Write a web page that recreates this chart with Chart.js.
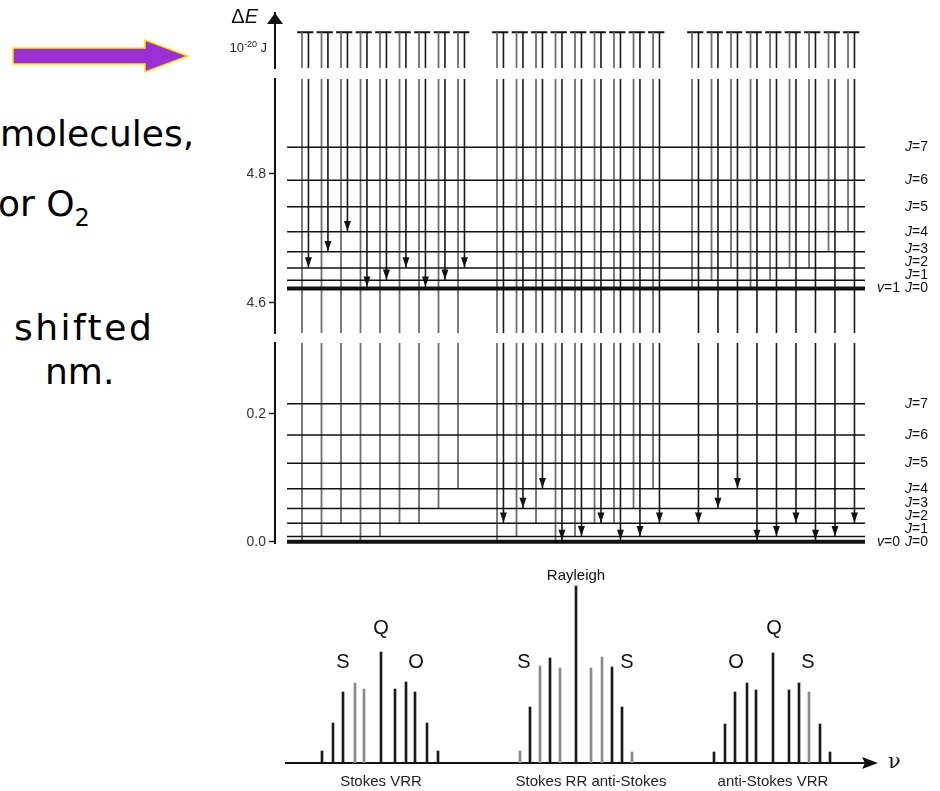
<!DOCTYPE html>
<html>
<head>
<meta charset="utf-8">
<script src="https://cdn.jsdelivr.net/npm/chart.js@4.4.0/dist/chart.umd.min.js"></script>
<style>
  body { margin: 0; width: 940px; height: 791px; position: relative; overflow: hidden; background: #fff; }
  .txt { position: absolute; font-family: "DejaVu Sans"; font-size: 36px; line-height: 36px; color: #000; white-space: nowrap; }
  .txt sub { font-size: 24px; vertical-align: -10px; line-height: 0; }
  #arrow { position: absolute; left: 10px; top: 36px; }
  #levels { position: absolute; left: 200px; top: 0; }
  #spectrum { position: absolute; left: 200px; top: 560px; }
</style>
</head>
<body>

<svg id="arrow" width="185" height="42">
  <polygon points="3,12 135,12 135,4 178,20 135,36 135,28 3,28" fill="#9b30d9" stroke="#ffe600" stroke-width="1.5"/>
</svg>
<div class="txt" style="left:0px; top:116px;">molecules,</div>
<div class="txt" style="left:-2px; top:186px;">or O<sub>2</sub></div>
<div class="txt" style="left:14px; top:310px; letter-spacing:2.5px;">shifted</div>
<div class="txt" style="left:45px; top:354px;">nm.</div>

<canvas id="levels" width="740" height="560"></canvas>
<canvas id="spectrum" width="740" height="231"></canvas>

<script>
// ===============================
// Energy levels (10^-20 J)
// ===============================

const levelJ = [0, 1, 2, 3, 4, 5, 6, 7];
const groundLevels = [0, 0.008, 0.029, 0.052, 0.083, 0.123, 0.167, 0.216];        // v=0
const excitedLevels = [4.622, 4.635, 4.654, 4.679, 4.710, 4.749, 4.790, 4.841];   // v=1

// broken energy axis: three pieces
const lowerRange = [-0.002, 0.311];
const upperRange = [4.553, 4.947];
const virtualRange = [0, 1];
const virtualLevel = 0.65;
const unitLevel = 0.36;
const lowerTicks = [0.0, 0.2];
const upperTicks = [4.6, 4.8];

// Raman transitions: start J and end J (same pattern in each group)
const fromJ = [0, 1, 2, 0, 1, 2, 2, 3, 4];
const toJ = [2, 3, 4, 0, 1, 2, 0, 1, 2];

// horizontal slot of each transition
const stokesSlots = [1, 2, 3, 4, 5, 6, 7, 8, 9];
const rayleighSlots = [11, 12, 13, 14, 15, 16, 17, 18, 19];
const antiStokesSlots = [21, 22, 23, 24, 25, 26, 27, 28, 29];

// ===============================
// Spectrum (relative shift, intensity)
// ===============================

const stokesVrrShift = [-254, -243, -233, -221, -212, -195, -181, -170, -161, -149, -138];
const stokesVrrIntensity = [12, 40, 71, 80, 74, 111, 74, 81, 71, 40, 12];
const rrShift = [-56, -46, -36, -26, -16, 0, 15, 26, 36, 46, 56];
const rrIntensity = [12, 56, 97, 105, 95, 177, 95, 106, 96, 56, 11];
const antiVrrShift = [138, 149, 159, 171, 180, 197, 213, 223, 233, 244, 254];
const antiVrrIntensity = [11, 39, 71, 80, 73, 110, 73, 80, 71, 39, 11];

const groupNames = ["Stokes VRR", "Stokes RR anti-Stokes", "anti-Stokes VRR"];
const groupCentres = [-195, 15, 197];

const branchText = ["S", "Q", "O", "S", "S", "O", "Q", "S"];
const branchShift = [-233, -195, -160, -52, 51, 160, 198, 232];
const branchHeight = [101, 135, 101, 101, 101, 101, 135, 101];

// ===============================
// Level diagram
// ===============================

Chart.defaults.font.family = "Liberation Sans";

const SLOT_GAP = 0.33;
const CAP = 0.25;
const levelStart = 0.23;
const levelEnd = 29.87;
const upColor = "#6e6e6e";
const downColor = "#1a1a1a";

function seg(axis, x1, y1, x2, y2, color, width){
    return {
        data: [{x: x1, y: y1}, {x: x2, y: y2}],
        yAxisID: axis,
        showLine: true,
        borderColor: color,
        backgroundColor: color,
        borderWidth: width,
        pointRadius: 0,
        clip: false
    };
}

const datasets = [];

groundLevels.forEach(function(e, j){
    datasets.push(seg("yLow", levelStart, e, levelEnd, e, "#111", j === 0 ? 4 : 1.5));
});
excitedLevels.forEach(function(e, j){
    datasets.push(seg("yHigh", levelStart, e, levelEnd, e, "#111", j === 0 ? 4 : 1.5));
});

const groups = [
    {slots: stokesSlots, from: groundLevels, to: excitedLevels, fromAxis: "yLow", toAxis: "yHigh"},
    {slots: rayleighSlots, from: groundLevels, to: groundLevels, fromAxis: "yLow", toAxis: "yLow"},
    {slots: antiStokesSlots, from: excitedLevels, to: groundLevels, fromAxis: "yHigh", toAxis: "yLow"}
];

groups.forEach(function(g){
    g.slots.forEach(function(s, i){
        const xUp = s;
        const xDown = s + SLOT_GAP;
        const eFrom = g.from[fromJ[i]];
        const eTo = g.to[toJ[i]];

        // up to the virtual level
        if(g.fromAxis === "yLow"){
            datasets.push(seg("yLow", xUp, eFrom, xUp, lowerRange[1], upColor, 1.8));
            datasets.push(seg("yHigh", xUp, upperRange[0], xUp, upperRange[1], upColor, 1.8));
        }else{
            datasets.push(seg("yHigh", xUp, eFrom, xUp, upperRange[1], upColor, 1.8));
        }
        datasets.push(seg("yTop", xUp, virtualRange[0], xUp, virtualLevel, upColor, 1.8));

        // virtual level
        datasets.push(seg("yTop", xUp - CAP, virtualLevel, xDown + CAP, virtualLevel, "#111", 2));

        // down to the final level
        datasets.push(seg("yTop", xDown, virtualLevel, xDown, virtualRange[0], downColor, 1.6));
        if(g.toAxis === "yHigh"){
            datasets.push(seg("yHigh", xDown, upperRange[1], xDown, eTo, downColor, 1.6));
        }else{
            datasets.push(seg("yHigh", xDown, upperRange[1], xDown, upperRange[0], downColor, 1.6));
            datasets.push(seg("yLow", xDown, lowerRange[1], xDown, eTo, downColor, 1.6));
        }
    });
});

function energyAxis(range, ticks, weight, order){
    return {
        type: "linear", axis: "y", position: "left",
        stack: "energy", stackWeight: weight, weight: order,
        min: range[0], max: range[1],
        afterBuildTicks: function(s){ s.ticks = ticks.map(v => ({value: v})); },
        afterFit: function(s){ s.width = 75; },
        grid: { display: true, drawOnChartArea: false, drawTicks: true, tickLength: 6, tickColor: "#222", tickWidth: 1.5 },
        border: { display: true, color: "#111", width: 2 },
        ticks: { padding: 3, color: "#333", font: { size: 14 }, autoSkip: false, callback: v => v.toFixed(1) }
    };
}

function gapAxis(weight, order){
    return {
        type: "linear", axis: "y", position: "left",
        stack: "energy", stackWeight: weight, weight: order,
        min: 0, max: 1, display: false,
        afterFit: function(s){ s.width = 75; }
    };
}

function drawLevelLabels(ctx, scale, levels, vLabel, right){
    const ys = [];
    levels.forEach(function(e, j){
        let y = scale.getPixelForValue(e);
        if(j > 0) y = Math.min(y, ys[j - 1] - 13);
        ys.push(y);
    });
    ctx.textBaseline = "middle";
    ctx.textAlign = "left";
    ys.forEach(function(y, j){
        const x = right + 40;
        ctx.font = "italic 14px 'Liberation Sans'";
        ctx.fillText("J", x, y);
        const w = ctx.measureText("J").width;
        ctx.font = "14px 'Liberation Sans'";
        ctx.fillText("=" + levelJ[j], x + w, y);
    });
    const x0 = right + 12;
    ctx.font = "italic 14px 'Liberation Sans'";
    ctx.fillText("v", x0, ys[0]);
    const wv = ctx.measureText("v").width;
    ctx.font = "14px 'Liberation Sans'";
    ctx.fillText("=" + vLabel, x0 + wv, ys[0]);
}

const levelDecor = {
    id: "levelDecor",
    afterDraw(chart){
        const ctx = chart.ctx;
        const area = chart.chartArea;
        const sx = chart.scales.x;
        ctx.save();
        ctx.fillStyle = "#111";

        // arrowheads on the scattered (downward) lines
        groups.forEach(function(g){
            g.slots.forEach(function(s, i){
                const scale = chart.scales[g.toAxis];
                const x = sx.getPixelForValue(s + SLOT_GAP);
                const y = scale.getPixelForValue(g.to[toJ[i]]) - (toJ[i] === 0 ? 2 : 0.7);
                ctx.beginPath();
                ctx.moveTo(x, y);
                ctx.lineTo(x - 3.5, y - 10);
                ctx.lineTo(x + 3.5, y - 10);
                ctx.closePath();
                ctx.fill();
            });
        });

        // axis arrow
        const ax = area.left;
        ctx.beginPath();
        ctx.moveTo(ax, area.top);
        ctx.lineTo(ax - 8, area.top + 11);
        ctx.lineTo(ax + 8, area.top + 11);
        ctx.closePath();
        ctx.fill();

        // ΔE
        ctx.textBaseline = "middle";
        ctx.textAlign = "right";
        ctx.font = "italic 20px 'Liberation Sans'";
        ctx.fillText("E", ax - 17, area.top + 4);
        const we = ctx.measureText("E").width;
        ctx.font = "20px 'Liberation Sans'";
        ctx.fillText("\u0394", ax - 17 - we, area.top + 4);

        // unit 10^-20 J
        const uy = chart.scales.yTop.getPixelForValue(unitLevel);
        const ux = ax - 8;
        ctx.fillStyle = "#222";
        ctx.font = "13px 'Liberation Sans'";
        ctx.fillText(" J", ux, uy);
        let w = ctx.measureText(" J").width;
        ctx.font = "9px 'Liberation Sans'";
        ctx.fillText("-20", ux - w, uy - 4);
        w += ctx.measureText("-20").width;
        ctx.font = "13px 'Liberation Sans'";
        ctx.fillText("10", ux - w, uy);

        // J labels
        ctx.fillStyle = "#111";
        drawLevelLabels(ctx, chart.scales.yHigh, excitedLevels, 1, area.right);
        drawLevelLabels(ctx, chart.scales.yLow, groundLevels, 0, area.right);
        ctx.restore();
    }
};

new Chart(document.getElementById("levels"), {
    type: "scatter",
    data: { datasets: datasets },
    options: {
        responsive: false,
        animation: false,
        devicePixelRatio: 1,
        layout: { padding: { left: 0, right: 75, top: 13, bottom: 17 } },
        plugins: { legend: { display: false }, tooltip: { enabled: false } },
        scales: {
            x: { type: "linear", min: -0.385, max: 29.87, display: false },
            yLow: energyAxis(lowerRange, lowerTicks, 200, 1),
            gapB: gapAxis(10, 2),
            yHigh: energyAxis(upperRange, upperTicks, 254, 3),
            gapA: gapAxis(11, 4),
            yTop: {
                type: "linear", axis: "y", position: "left",
                stack: "energy", stackWeight: 55, weight: 5,
                min: virtualRange[0], max: virtualRange[1],
                afterFit: function(s){ s.width = 75; },
                grid: { display: false },
                border: { display: true, color: "#111", width: 2 },
                ticks: { display: false }
            }
        }
    },
    plugins: [levelDecor]
});

// ===============================
// Spectrum
// ===============================

const grayStick = [[3, 4], [0, 2, 4, 6, 7, 10], [8]];

function sticks(shift, intensity){
    return shift.map((x, i) => ({x: x, y: intensity[i]}));
}

function stickColors(group, count){
    const colors = [];
    for(let i = 0; i < count; i++){
        colors.push(grayStick[group].includes(i) ? "#8a8a8a" : "#1a1a1a");
    }
    return colors;
}

const spectrumDecor = {
    id: "spectrumDecor",
    afterDraw(chart){
        const ctx = chart.ctx;
        const area = chart.chartArea;
        const sx = chart.scales.x;
        const sy = chart.scales.y;
        ctx.save();
        ctx.fillStyle = "#111";

        // frequency arrow
        ctx.beginPath();
        ctx.moveTo(area.right + 10, area.bottom);
        ctx.lineTo(area.right - 6, area.bottom - 6);
        ctx.lineTo(area.right - 3, area.bottom);
        ctx.lineTo(area.right - 6, area.bottom + 6);
        ctx.closePath();
        ctx.fill();
        ctx.textBaseline = "middle";
        ctx.textAlign = "left";
        ctx.font = "21px 'DejaVu Serif'";
        ctx.fillText("\u03bd", area.right + 20, area.bottom);

        // branch letters
        ctx.textAlign = "center";
        ctx.font = "20px 'Liberation Sans'";
        branchText.forEach(function(t, i){
            ctx.fillText(t, sx.getPixelForValue(branchShift[i]), sy.getPixelForValue(branchHeight[i]));
        });

        ctx.font = "15px 'Liberation Sans'";
        ctx.fillText("Rayleigh", sx.getPixelForValue(0), sy.getPixelForValue(187));
        ctx.restore();
    }
};

new Chart(document.getElementById("spectrum"), {
    type: "bar",
    data: {
        datasets: [
            { data: sticks(stokesVrrShift, stokesVrrIntensity), backgroundColor: stickColors(0, stokesVrrShift.length) },
            { data: sticks(rrShift, rrIntensity), backgroundColor: stickColors(1, rrShift.length) },
            { data: sticks(antiVrrShift, antiVrrIntensity), backgroundColor: stickColors(2, antiVrrShift.length) }
        ]
    },
    options: {
        responsive: false,
        animation: false,
        devicePixelRatio: 1,
        layout: { padding: { left: 86, right: 72, top: 10, bottom: 0 } },
        plugins: { legend: { display: false }, tooltip: { enabled: false } },
        datasets: { bar: { barThickness: 2, grouped: false, borderWidth: 0 } },
        scales: {
            x: {
                type: "linear", min: -290, max: 292, offset: false,
                grid: { display: false, drawTicks: false, offset: false },
                border: { display: true, color: "#111", width: 2 },
                afterBuildTicks: function(s){ s.ticks = groupCentres.map(v => ({value: v})); },
                afterFit: function(s){ s.height = 28; },
                ticks: {
                    padding: 10, autoSkip: false, maxRotation: 0,
                    color: "#222", font: { size: 15 },
                    callback: (v, i) => groupNames[i]
                }
            },
            y: { display: false, min: 0, max: 193 }
        }
    },
    plugins: [spectrumDecor]
});
</script>
</body>
</html>
